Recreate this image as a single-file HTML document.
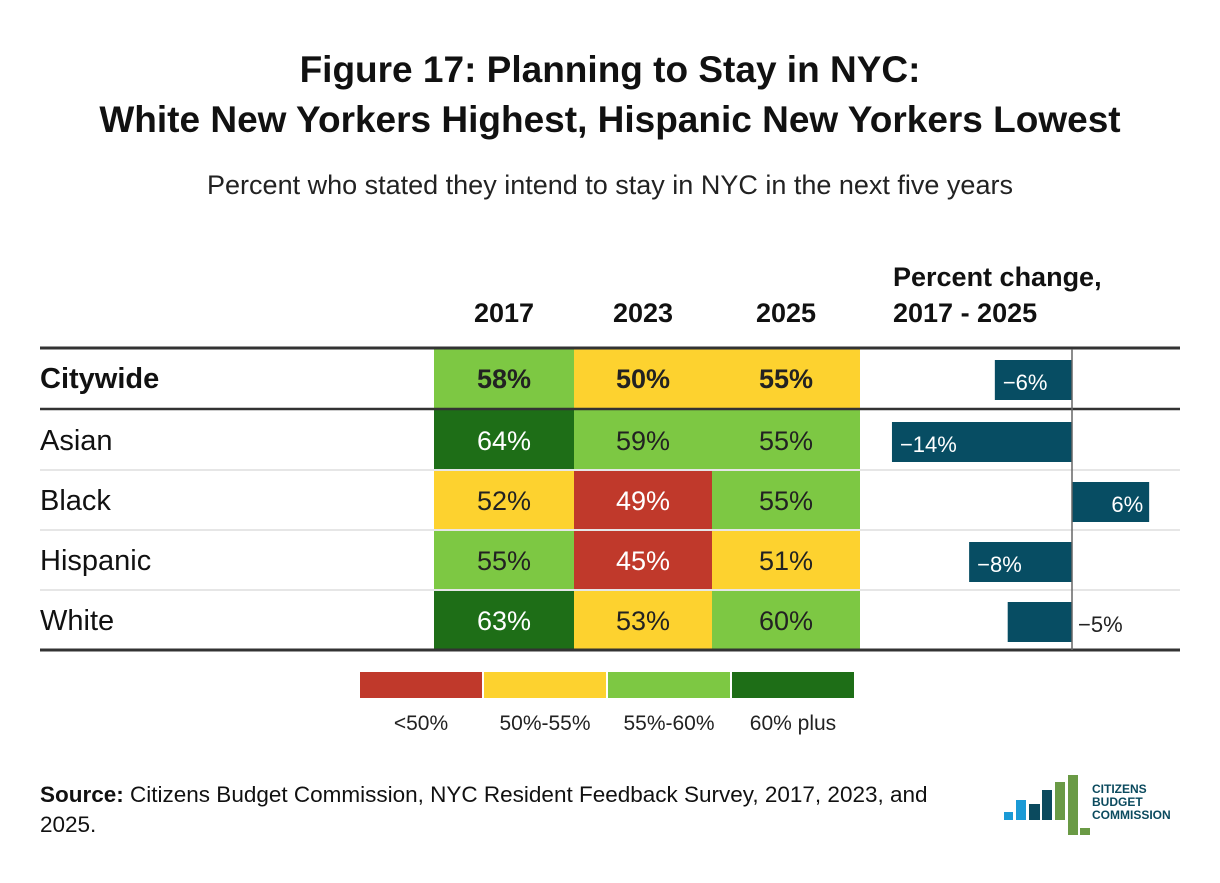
<!DOCTYPE html>
<html><head><meta charset="utf-8"><style>
body{margin:0;background:#fff;font-family:"Liberation Sans",sans-serif;}
svg text{font-family:"Liberation Sans",sans-serif;}
</style></head><body>
<svg id="c" width="1220" height="878" viewBox="0 0 1220 878">
<text x="610" y="82" text-anchor="middle" font-size="37" font-weight="bold" fill="#111">Figure 17: Planning to Stay in NYC:</text>
<text x="610" y="132" text-anchor="middle" font-size="37" font-weight="bold" fill="#111">White New Yorkers Highest, Hispanic New Yorkers Lowest</text>
<text x="610" y="194" text-anchor="middle" font-size="27" fill="#222">Percent who stated they intend to stay in NYC in the next five years</text>
<text x="893" y="286" font-size="27" font-weight="bold" fill="#111">Percent change,</text>
<text x="893" y="322" font-size="27" font-weight="bold" fill="#111">2017 - 2025</text>
<g id="g"></g>
<text x="40" y="802" font-size="22.5" fill="#111"><tspan font-weight="bold">Source:</tspan> Citizens Budget Commission, NYC Resident Feedback Survey, 2017, 2023, and</text>
<text x="40" y="832" font-size="22.5" fill="#111">2025.</text>
<g>
<rect x="1004" y="812" width="9" height="8" fill="#1a9ad6"/>
<rect x="1016" y="800" width="10" height="20" fill="#1a9ad6"/>
<rect x="1029" y="804" width="11" height="16" fill="#0b4a5e"/>
<rect x="1042" y="790" width="10" height="30" fill="#0b4a5e"/>
<rect x="1055" y="782" width="10" height="38" fill="#6a9a45"/>
<rect x="1068" y="775" width="10" height="60" fill="#6a9a45"/>
<rect x="1080" y="828" width="10" height="7" fill="#6a9a45"/>
<text x="1092" y="793" font-size="12" font-weight="bold" fill="#0b4a5e">CITIZENS</text>
<text x="1092" y="806" font-size="12" font-weight="bold" fill="#0b4a5e">BUDGET</text>
<text x="1092" y="819" font-size="12" font-weight="bold" fill="#0b4a5e">COMMISSION</text>
</g>
</svg>
<script>
const groups=["Citywide","Asian","Black","Hispanic","White"];
const years=["2017","2023","2025"];
const v2017=[58,64,52,55.2,63];
const v2023=[50,59,49,45,53];
const v2025=[54.6,55.2,55.3,51,59.7];
const change=[-6,-14,6,-8,-5];
const legendLabels=["<50%","50%-55%","55%-60%","60% plus"];
const NS="http://www.w3.org/2000/svg";
const g=document.getElementById('g');
function mk(t,a,txt){const e=document.createElementNS(NS,t);for(const k in a)e.setAttribute(k,a[k]);if(txt!=null)e.textContent=txt;g.appendChild(e);return e;}
const colX=[434,574,712],colW=[140,138,148];
const rowY=i=>i===0?348:410+(i-1)*60;
const rowH=i=>60;
function color(v){return v<50?"#c0392b":v<55?"#fdd22f":v<60?"#7dc843":"#1e6e17";}
function tcol(v){return v>=60?"#fff":v<50?"#fff":"#222";}
years.forEach((y,j)=>{const e=mk('text',{x:colX[j]+colW[j]/2,y:322,'text-anchor':'middle','font-size':27,'font-weight':'bold',fill:'#111'},y);

});
const series=[v2017,v2023,v2025];
const zero=1072,scale=12.86;
const xs=v=>zero+v*scale;
groups.forEach((name,i)=>{
 const y=rowY(i),h=rowH(i);
 const l=mk('text',{x:40,y:y+h/2+10,'font-size':29,'font-weight':i===0?'bold':'normal',fill:'#111'},name);
 
 
 series.forEach((s,j)=>{
  const r=mk('rect',{x:colX[j],y:y,width:colW[j],height:h,fill:color(s[i])});
  
  
  const t=mk('text',{x:colX[j]+colW[j]/2,y:y+h/2+10,'text-anchor':'middle','font-size':27,'font-weight':i===0?'bold':'normal',fill:tcol(s[i])},Math.round(s[i])+'%');
  
  
 });
 const c=change[i];
 const x0=Math.min(xs(0),xs(c)),w=Math.abs(xs(c)-xs(0));
 const b=mk('rect',{x:x0,y:y+12,width:w,height:40,fill:'#074d63'});
 
 
 const lab=(c<0?'\u2212':'')+Math.abs(c)+'%';
 let tx,anchor,fill;
 if(w>70){ if(c<0){tx=x0+8;anchor='start';}else{tx=x0+w-6;anchor='end';} fill='#fff'; }
 else {tx=xs(0)+6;anchor='start';fill='#222';}
 const t=mk('text',{x:tx,y:y+42,'text-anchor':anchor,'font-size':22,fill:fill},lab);
 
 
 if(i>1){const ln=mk('line',{x1:40,x2:1180,y1:y,y2:y,stroke:'#e6e6e6','stroke-width':2});
 
 }
});
[[348,3],[409,2.5],[650,3]].forEach(([y,w])=>{const ln=mk('line',{x1:40,x2:1180,y1:y,y2:y,stroke:'#333','stroke-width':w});

});
const ax=mk('line',{x1:zero,x2:zero,y1:349,y2:650,stroke:'#666','stroke-width':1.5});


const legCols=["#c0392b","#fdd22f","#7dc843","#1e6e17"];
legendLabels.forEach((t,k)=>{
 const r=mk('rect',{x:360+k*124,y:672,width:122,height:26,fill:legCols[k]});
 
 
 const tt=mk('text',{x:421+k*124,y:730,'text-anchor':'middle','font-size':21,fill:'#222'},t);
 
 
});
</script>
</body></html>
